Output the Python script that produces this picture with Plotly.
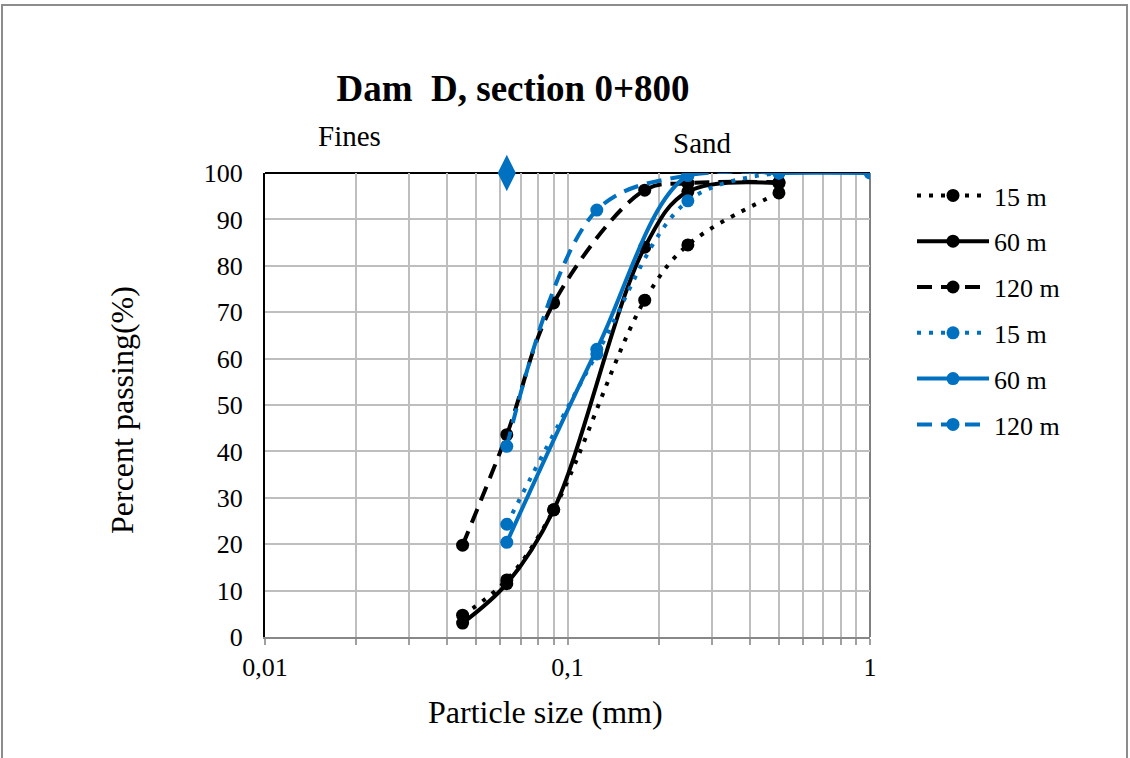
import plotly.graph_objects as go

# Particle size (mm) for each sample set
size_black = [0.045, 0.063, 0.09, 0.18, 0.25, 0.5]
size_blue = [0.063, 0.125, 0.25, 0.5]
size_blue_60 = [0.063, 0.125, 0.25, 0.5, 1.0]

# Percent passing, black series
black_15 = [4.7, 12.3, 27.4, 72.6, 84.5, 95.7]
black_60 = [3.0, 11.5, 27.4, 84.0, 96.0, 97.8]
black_120 = [19.8, 43.6, 72.0, 96.3, 97.8, 98.0]

# Percent passing, blue series
blue_15 = [24.3, 61.0, 94.0, 100.0]
blue_60 = [20.4, 62.0, 99.5, 100.0, 100.0]
blue_120 = [41.1, 92.0, 99.5, 100.0]

# Fines / sand boundary marker
boundary_size = [0.063]
boundary_value = [100]

x_tickvals = [0.01, 0.1, 1]
x_ticktext = ["0,01", "0,1", "1"]
x_minor = [0.02, 0.03, 0.04, 0.05, 0.06, 0.07, 0.08, 0.09,
           0.2, 0.3, 0.4, 0.5, 0.6, 0.7, 0.8, 0.9]
y_tickvals = list(range(0, 101, 10))

BLACK = "#000000"
BLUE = "#0070C0"
FONT = "Liberation Serif"
DOT = "4px,8px"
DASH = "15px,9px"

series = [
    ("15 m", size_black, black_15, BLACK, DOT),
    ("60 m", size_black, black_60, BLACK, "solid"),
    ("120 m", size_black, black_120, BLACK, DASH),
    ("15 m", size_blue, blue_15, BLUE, DOT),
    ("60 m", size_blue_60, blue_60, BLUE, "solid"),
    ("120 m", size_blue, blue_120, BLUE, DASH),
]

fig = go.Figure()
for i, (name, xs, ys, color, dash) in enumerate(series):
    fig.add_trace(go.Scatter(
        x=xs, y=ys, name=name, mode="lines+markers",
        legendgroup=f"g{i}",
        line=dict(color=color, width=4, dash=dash, shape="spline", smoothing=1),
        marker=dict(color=color, size=13, symbol="circle"),
    ))

fig.add_trace(go.Scatter(
    x=boundary_size, y=boundary_value, mode="markers", showlegend=False,
    marker=dict(color=BLUE, size=26, symbol="diamond-tall"),
    cliponaxis=False,
))

W, H = 1130, 758
L, R, T, B = 265, 870, 173, 637


def px_x(p):
    return (p - L) / (R - L)


def px_y(p):
    return (B - p) / (B - T)


shapes = [
    # outer chart border
    dict(type="rect", xref="paper", yref="paper",
         x0=px_x(2), x1=px_x(1127), y0=px_y(762), y1=px_y(5),
         line=dict(color="#8C8C8C", width=2), layer="below"),
    # top edge at 100 %
    dict(type="line", xref="paper", yref="paper", x0=0, x1=1, y0=1, y1=1,
         line=dict(color="#000000", width=2), layer="below"),
    # right edge of plot area
    dict(type="line", xref="paper", yref="paper", x0=1, x1=1, y0=0, y1=1,
         line=dict(color="#808080", width=2), layer="below"),
]


def label(text, x, y, size, angle=0):
    return dict(text=text, x=px_x(x), y=px_y(y), xref="paper", yref="paper",
                xanchor="center", yanchor="middle", showarrow=False,
                textangle=angle, font=dict(family=FONT, size=size, color="black"))


annotations = [
    label("Fines", 349, 136, 29),
    label("Sand", 702, 143, 29),
    label("Particle size (mm)", 545, 712, 32),
    label("Percent passing(%)", 122, 410, 32, -90),
]

fig.update_layout(
    width=W, height=H,
    margin=dict(l=L, r=W - R, t=T, b=H - B, pad=0),
    paper_bgcolor="white", plot_bgcolor="white",
    font=dict(family=FONT, size=26, color="black"),
    title=dict(text="<b>Dam\u00a0 D, section 0+800</b>", x=513 / W, xanchor="center",
               y=1 - 88 / H, yanchor="middle",
               font=dict(family=FONT, size=37, color="black")),
    xaxis=dict(type="log", range=[-2, 0], tickvals=x_tickvals, ticktext=x_ticktext,
               showgrid=True, gridcolor="#BEBEBE", gridwidth=2,
               ticks="outside", ticklen=6, tickcolor="#A0A0A0", tickwidth=2,
               minor=dict(tickvals=x_minor, showgrid=True, gridcolor="#BEBEBE",
                          gridwidth=2, ticks="outside", ticklen=6,
                          tickcolor="#A0A0A0", tickwidth=2),
               showline=True, linecolor="#888888", linewidth=2,
               zeroline=False, tickfont=dict(family=FONT, size=26)),
    yaxis=dict(range=[0, 100], tickvals=y_tickvals, showgrid=True,
               gridcolor="#BEBEBE", gridwidth=2, ticks="",
               showline=True, linecolor="#000000", linewidth=2,
               zeroline=False, ticklabelstandoff=15,
               tickfont=dict(family=FONT, size=26)),
    legend=dict(x=px_x(912), y=px_y(172), xanchor="left", yanchor="top",
                traceorder="grouped", tracegroupgap=9, itemwidth=72,
                font=dict(family=FONT, size=26, color="black"),
                bgcolor="rgba(0,0,0,0)"),
    shapes=shapes,
    annotations=annotations,
)

fig.write_html("out.html")
